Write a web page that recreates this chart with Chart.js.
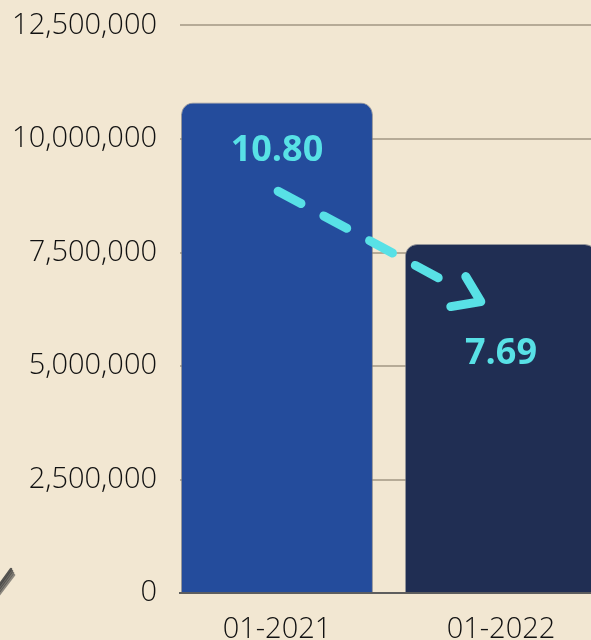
<!DOCTYPE html>
<html lang="en">
<head>
    <meta charset="UTF-8">
    <title>Monthly volume</title>
    <style>
        html, body { margin: 0; padding: 0; background: #f2e7d2; overflow: hidden; }
        canvas { display: block; margin-top: -15px; }
    </style>
</head>
<body>

<canvas id="volume-chart" width="591" height="687"></canvas>

<script src="https://cdn.jsdelivr.net/npm/chart.js"></script>

<script>
    // data
    const categories = ['01-2021', '01-2022']
    const values = [10800000, 7690000]
    const barColors = ['#244c9c', '#202e53']
    const yTicks = [0, 2500000, 5000000, 7500000, 10000000, 12500000]

    const accent = '#58e1e6'

    // value labels inside the bars + dashed arrow between them
    const overlay = {
        id: 'overlay',
        afterDatasetsDraw(chart) {
            const ctx = chart.ctx
            const bars = chart.getDatasetMeta(0).data
            const x = chart.scales.x
            const y = chart.scales.y
            const offsets = [48, 110]

            ctx.save()
            ctx.fillStyle = accent
            ctx.font = 'bold 36px "Open Sans"'
            ctx.textAlign = 'center'
            ctx.textBaseline = 'middle'
            bars.forEach((bar, i) => {
                ctx.fillText((values[i] / 1e6).toFixed(2), bar.x, bar.y + offsets[i])
            })

            // arrow from first bar down to second
            const x1 = x.getPixelForValue(0.005), y1 = y.getPixelForValue(8850000)
            const x2 = x.getPixelForValue(0.91), y2 = y.getPixelForValue(6420000)
            ctx.strokeStyle = accent
            ctx.lineWidth = 9
            ctx.lineCap = 'round'
            ctx.lineJoin = 'round'
            ctx.setLineDash([26, 26])
            ctx.beginPath()
            ctx.moveTo(x1, y1)
            ctx.lineTo(x2 - 30, y2 - 17)
            ctx.stroke()
            ctx.setLineDash([])
            ctx.beginPath()
            ctx.moveTo(x2 - 15, y2 - 25)
            ctx.lineTo(x2, y2)
            ctx.lineTo(x2 - 30, y2 + 5)
            ctx.stroke()
            ctx.restore()

            // little brush mark in the bottom left corner
            ctx.save()
            ctx.strokeStyle = '#3a3a3a'
            ctx.lineWidth = 2.5
            ctx.lineCap = 'round'
            for (let k = 0; k < 4; k++) {
                ctx.globalAlpha = 0.55 + k * 0.1
                ctx.beginPath()
                ctx.moveTo(-2, 611 - k * 3)
                ctx.lineTo(14 - k, 590 - k * 2)
                ctx.stroke()
            }
            ctx.restore()
        }
    }

    new Chart(document.getElementById('volume-chart'), {
        type: 'bar',
        data: {
            datasets: [{
                data: values.map((v, i) => ({x: i, y: v})),
                backgroundColor: barColors,
                borderColor: 'rgba(110, 115, 130, 0.7)',
                borderWidth: 1,
                borderSkipped: 'bottom',
                borderRadius: {topLeft: 12, topRight: 12, bottomLeft: 0, bottomRight: 0},
                categoryPercentage: 1,
                barPercentage: 0.857
            }]
        },
        options: {
            responsive: false,
            animation: false,
            layout: {padding: {top: 10, right: 0, bottom: 6, left: 0}},
            plugins: {
                legend: {display: false},
                tooltip: {enabled: false}
            },
            scales: {
                x: {
                    type: 'linear',
                    offset: false,
                    min: -0.433,
                    max: 1.402,
                    afterBuildTicks: scale => {
                        scale.ticks = categories.map((c, i) => ({value: i}))
                    },
                    grid: {display: false, drawTicks: false},
                    border: {display: true, color: '#5e5e5e', width: 2},
                    ticks: {
                        padding: 19,
                        color: '#111',
                        font: {family: 'Open Sans', size: 29, weight: 300},
                        callback: v => categories[v]
                    }
                },
                y: {
                    min: 0,
                    max: 12500000,
                    afterBuildTicks: scale => {
                        scale.ticks = yTicks.map(v => ({value: v}))
                    },
                    afterFit: scale => {
                        scale.width = 180
                    },
                    grid: {color: '#b6ab97', lineWidth: 2, drawTicks: false},
                    border: {display: false},
                    ticks: {
                        padding: 23,
                        color: '#111',
                        font: {family: 'Open Sans', size: 29, weight: 300},
                        callback: v => v.toLocaleString('en-US')
                    }
                }
            }
        },
        plugins: [overlay]
    })
</script>

</body>
</html>
